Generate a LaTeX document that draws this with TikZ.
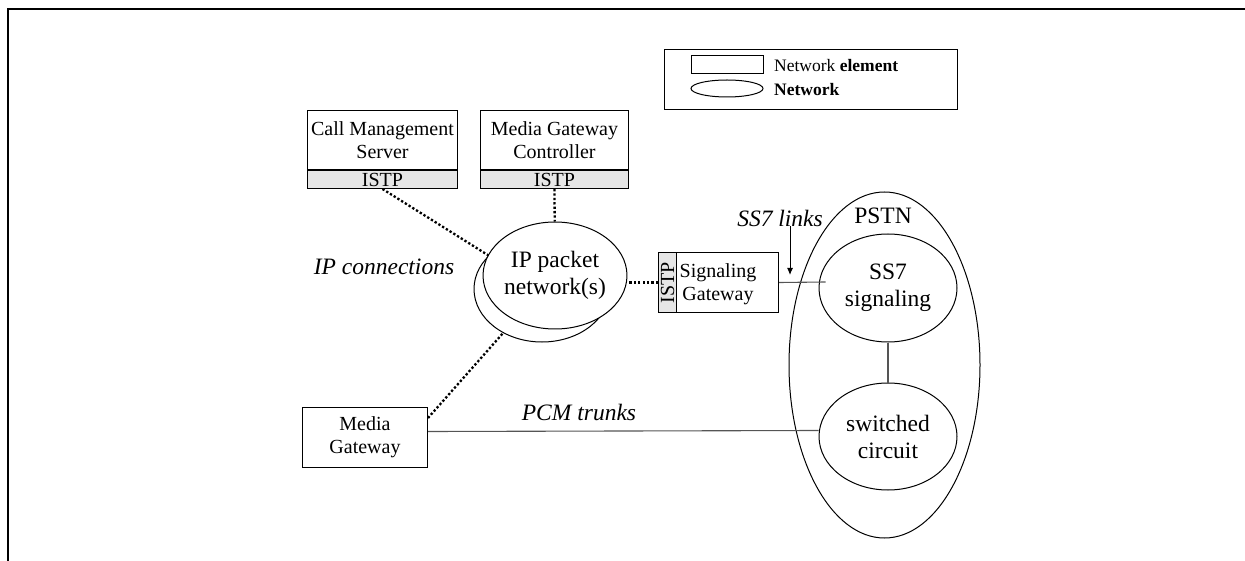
\documentclass[tikz,border=0pt]{standalone}
\usepackage{fontspec}
\setmainfont{Liberation Serif}
\usetikzlibrary{shapes.geometric,arrows.meta,calc}
\definecolor{stripgray}{HTML}{E6E6E6}
\definecolor{linegray}{HTML}{555555}
\tikzset{
  elbox/.style={draw=black, line width=1pt, fill=white, inner sep=0pt, align=center,
    font=\fontsize{20}{23}\selectfont},
  istpstrip/.style={draw=black, line width=1pt, fill=stripgray, inner sep=0pt,
    font=\fontsize{20}{23}\selectfont},
  netw/.style={draw=black, line width=1pt, ellipse, inner sep=0pt, align=center,
    font=\fontsize{23.5}{27}\selectfont},
  ipdots/.style={line width=2.3pt, dash pattern=on 2.3pt off 2.1pt},
  thinlink/.style={draw=linegray, line width=1.1pt},
  itlabel/.style={font=\fontsize{23.5}{27}\selectfont\itshape, inner sep=0pt},
  legtext/.style={font=\fontsize{17.5}{20}\selectfont, inner sep=0pt, anchor=west}
}
\begin{document}
\begin{tikzpicture}[x=1pt,y=-1pt]
\useasboundingbox (0,0) rectangle (1245,561);
% frame
\draw[line width=2.2pt] (7.7,561) -- (7.7,9.3) -- (1245,9.3);

% legend
\node[draw=black, line width=1pt, minimum width=293pt, minimum height=60pt, anchor=north west, inner sep=0pt] (legend) at (664,49) {};
\draw[line width=1pt] (691,56) rectangle (763,74);
\draw[line width=1pt] (727,88.5) ellipse [x radius=36, y radius=8.5];
\node[legtext] (legel) at (774,66) {Network \textbf{element}};
\node[legtext] (legnet) at (774,90) {\textbf{Network}};

% Call Management Server
\node[elbox, minimum width=150pt, minimum height=59pt, anchor=north west] (cms) at (307,110) {Call Management\\Server};
\node[istpstrip, minimum width=150pt, minimum height=18pt, anchor=north] (cmsistp) at (cms.south) {ISTP};

% Media Gateway Controller
\node[elbox, minimum width=148pt, minimum height=59pt, anchor=north west] (mgc) at (480,110) {Media Gateway\\Controller};
\node[istpstrip, minimum width=148pt, minimum height=18pt, anchor=north] (mgcistp) at (mgc.south) {ISTP};

% IP packet networks
\node[netw, minimum width=136pt, minimum height=106pt] (ipb) at (542,289) {};
\node[netw, fill=white, minimum width=137pt, minimum height=107pt] (ipf) at (555,275.5) {IP packet\\network(s)};

% Signaling Gateway
\node[elbox, minimum width=120pt, minimum height=60pt, anchor=north west] (sg) at (658,252) {};
\node[istpstrip, minimum width=18pt, minimum height=60pt, anchor=north west] (sgistp) at (658,252) {};
\node[rotate=90, inner sep=0pt, font=\fontsize{20}{23}\selectfont] (sgistptext) at (sgistp.center) {ISTP};
\node[align=center, inner sep=0pt, font=\fontsize{20}{23}\selectfont] (sgtext) at (718,284) {Signaling\\Gateway};

% Media Gateway
\node[elbox, minimum width=125pt, minimum height=60pt, anchor=north west] (mg) at (302,407) {Media\\Gateway};

% PSTN
\node[netw, minimum width=191pt, minimum height=346pt] (pstn) at (884.5,365) {};
\node[inner sep=0pt, font=\fontsize{23.5}{27}\selectfont] (pstnlabel) at (883,216) {PSTN};
\node[netw, minimum width=138pt, minimum height=108pt] (ss7) at (888,288) {SS7\\signaling};
\node[netw, minimum width=138pt, minimum height=107pt] (sw) at (888,436.5) {switched\\circuit};

% labels
\node[itlabel] (ipconn) at (384,267) {IP connections};
\node[itlabel] (pcm) at (579,412) {PCM trunks};
\node[itlabel] (ss7links) at (780,218) {SS7 links};
\coordinate (arrowtip) at (790,275);

% connectors
\draw[ipdots] (cmsistp.south) -- (ipb);
\draw[ipdots] (mgcistp.south) -- (ipf);
\draw[ipdots] ([yshift=-11pt]mg.north east) -- (ipb);
\draw[ipdots] (sgistp.west) -- (sgistp.west -| ipf.east);
\draw[thinlink] (sg.east) -- ([xshift=7pt,yshift=6pt]ss7.west);
\draw[thinlink] ([yshift=6pt]mg.east) -- ([yshift=6pt]sw.west);
\draw[thinlink] (ss7) -- (sw);
\draw[line width=1pt, -{Latex[length=7pt,width=6pt]}] (ss7links.south -| arrowtip) -- (arrowtip);
\end{tikzpicture}
\end{document}
